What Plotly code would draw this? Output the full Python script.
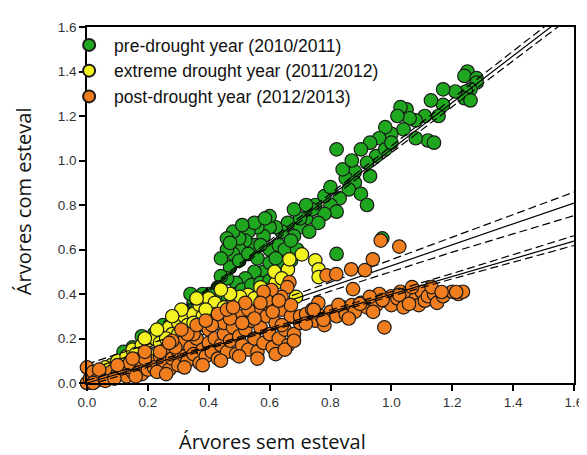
import plotly.graph_objects as go

# ---------------- data ----------------
green_x = [1.25, 1.24, 1.28, 1.28, 1.26, 1.245, 1.24, 1.26, 1.21, 1.17, 1.17, 1.13, 1.155, 1.11, 1.08, 1.05, 1.06, 1.03,
           1.12, 1.14, 1.08, 1.00, 0.98, 1.02, 0.96, 0.93, 0.95, 0.92, 0.90, 0.88, 0.85, 0.82, 0.88, 0.86, 0.90, 0.93,
           0.97, 0.92, 0.83, 0.80, 0.82, 0.78, 0.75, 0.76, 0.72, 0.70, 0.73, 0.68, 0.66, 0.64, 0.62, 0.60, 0.58, 0.56,
           0.53, 0.55, 0.52, 0.50, 0.48, 0.46, 0.47, 0.50, 0.53, 0.56, 0.60, 0.63, 0.65, 0.58, 0.60, 0.55, 0.52, 0.49,
           0.46, 0.44, 0.43, 0.45, 0.48, 0.51, 0.54, 0.57, 0.60, 0.62, 0.65, 0.67, 0.69, 0.42, 0.40, 0.38, 0.35, 0.34,
           0.36, 0.32, 0.30, 0.28, 0.25, 0.22, 0.18, 0.15, 0.12, 0.82, 0.64, 0.50, 0.48, 0.55, 0.57, 0.62, 0.67, 0.70,
           0.74, 0.78, 0.80, 0.84, 0.87, 0.98, 1.00, 1.04, 0.68, 0.72, 0.60, 0.46, 0.44, 0.40, 0.38, 0.585, 0.51, 0.47]
green_y = [1.40, 1.38, 1.37, 1.35, 1.32, 1.31, 1.28, 1.27, 1.31, 1.32, 1.25, 1.27, 1.20, 1.20, 1.18, 1.23, 1.19, 1.24,
           1.09, 1.08, 1.10, 1.12, 1.15, 1.20, 1.10, 1.08, 1.02, 0.99, 1.05, 0.95, 0.92, 1.05, 0.90, 0.87, 0.85, 0.93,
           0.65, 0.80, 0.83, 0.80, 0.77, 0.76, 0.80, 0.72, 0.74, 0.70, 0.68, 0.66, 0.72, 0.68, 0.70, 0.70, 0.66, 0.70,
           0.68, 0.62, 0.64, 0.60, 0.58, 0.60, 0.52, 0.55, 0.58, 0.56, 0.60, 0.62, 0.60, 0.50, 0.54, 0.50, 0.47, 0.45,
           0.47, 0.48, 0.43, 0.40, 0.40, 0.42, 0.44, 0.45, 0.46, 0.50, 0.52, 0.55, 0.60, 0.38, 0.40, 0.40, 0.36, 0.40,
           0.33, 0.32, 0.30, 0.28, 0.26, 0.22, 0.21, 0.16, 0.14, 0.58, 0.54, 0.65, 0.68, 0.72, 0.62, 0.56, 0.64, 0.74,
           0.78, 0.84, 0.88, 0.96, 1.00, 1.05, 1.08, 1.14, 0.78, 0.80, 0.75, 0.65, 0.56, 0.35, 0.34, 0.74, 0.71, 0.63]

yellow_x = [0.05, 0.08, 0.10, 0.13, 0.15, 0.18, 0.20, 0.22, 0.25, 0.27, 0.30, 0.32, 0.35, 0.37, 0.40, 0.42, 0.45, 0.48,
            0.50, 0.53, 0.56, 0.58, 0.60, 0.62, 0.616, 0.66, 0.665, 0.706, 0.75, 0.761, 0.761, 0.687, 0.584, 0.529, 0.503,
            0.38, 0.33, 0.28, 0.24, 0.20, 0.17, 0.14, 0.13, 0.03, 0.06, 0.35, 0.42, 0.45, 0.52, 0.30, 0.26, 0.55, 0.47,
            0.44, 0.39, 0.36, 0.31, 0.28, 0.23, 0.19, 0.16, 0.09, 0.64, 0.57]
yellow_y = [0.05, 0.08, 0.10, 0.12, 0.15, 0.17, 0.19, 0.20, 0.22, 0.25, 0.27, 0.30, 0.31, 0.35, 0.38, 0.36, 0.34, 0.35,
            0.37, 0.36, 0.33, 0.40, 0.42, 0.45, 0.50, 0.51, 0.556, 0.578, 0.551, 0.511, 0.476, 0.387, 0.373, 0.396, 0.387,
            0.30, 0.26, 0.22, 0.18, 0.13, 0.10, 0.07, -0.005, 0.04, 0.07, 0.27, 0.31, 0.28, 0.30, 0.22, 0.20, 0.38, 0.40,
            0.42, 0.33, 0.38, 0.33, 0.30, 0.24, 0.20, 0.13, 0.06, 0.47, 0.43]

orange_x = [0.00, 0.01, 0.00, 0.02, 0.03, 0.05, 0.07, 0.08, 0.10, 0.12, 0.13, 0.15, 0.17, 0.18, 0.20, 0.21, 0.22, 0.24,
            0.25, 0.26, 0.27, 0.28, 0.30, 0.30, 0.31, 0.32, 0.33, 0.34, 0.35, 0.36, 0.37, 0.38, 0.39, 0.40, 0.40, 0.41,
            0.42, 0.43, 0.44, 0.45, 0.45, 0.46, 0.47, 0.48, 0.49, 0.50, 0.50, 0.51, 0.52, 0.53, 0.54, 0.55, 0.56, 0.56,
            0.57, 0.58, 0.59, 0.60, 0.60, 0.61, 0.62, 0.63, 0.64, 0.65, 0.66, 0.67, 0.68, 0.70, 0.665, 0.658, 0.639, 0.606,
            0.58, 0.70, 0.72, 0.74, 0.75, 0.77, 0.78, 0.80, 0.82, 0.84, 0.85, 0.87, 0.88, 0.90, 0.92, 0.93, 0.95, 0.96,
            0.98, 1.00, 1.00, 1.02, 1.03, 1.05, 1.06, 1.08, 1.09, 1.10, 1.11, 1.12, 1.14, 1.15, 1.17, 1.20, 1.22, 1.235,
            1.04, 0.94, 0.86, 0.76, 0.787, 0.819, 0.868, 0.913, 0.939, 0.965, 1.026, 0.977, 0.874, 0.929, 0.971, 1.026,
            1.058, 0.826, 0.897, 1.068, 1.132, 1.165, 1.213, 0.745, 0.719, 0.777,
            0.02, 0.04, 0.06, 0.09, 0.11, 0.14, 0.16, 0.19, 0.23, 0.26, 0.29, 0.32, 0.35, 0.38, 0.41, 0.44, 0.47, 0.50,
            0.53, 0.56, 0.59, 0.62, 0.65, 0.68, 0.24, 0.28, 0.33, 0.36, 0.43, 0.46, 0.52, 0.55, 0.58, 0.61, 0.64, 0.67,
            0.10, 0.15, 0.19, 0.27, 0.31, 0.39, 0.48, 0.51, 0.57, 0.63]
orange_y = [0.00, 0.02, 0.07, 0.05, 0.01, 0.03, 0.02, 0.05, 0.04, 0.06, 0.03, 0.05, 0.08, 0.04, 0.06, 0.10, 0.07, 0.12,
            0.09, 0.15, 0.06, 0.11, 0.14, 0.08, 0.18, 0.12, 0.10, 0.16, 0.13, 0.20, 0.09, 0.15, 0.12, 0.18, 0.24, 0.14,
            0.20, 0.11, 0.17, 0.22, 0.27, 0.14, 0.19, 0.25, 0.13, 0.21, 0.30, 0.17, 0.24, 0.15, 0.28, 0.20, 0.32, 0.14,
            0.25, 0.18, 0.30, 0.22, 0.35, 0.16, 0.27, 0.20, 0.33, 0.24, 0.17, 0.30, 0.22, 0.27, 0.453, 0.431, 0.387, 0.418,
            0.38, 0.30, 0.31, 0.33, 0.28, 0.30, 0.26, 0.32, 0.30, 0.34, 0.31, 0.35, 0.32, 0.36, 0.34, 0.38, 0.35, 0.40,
            0.37, 0.39, 0.35, 0.38, 0.41, 0.37, 0.40, 0.38, 0.35, 0.41, 0.37, 0.39, 0.40, 0.36, 0.39, 0.41, 0.40, 0.41,
            0.34, 0.32, 0.29, 0.36, 0.484, 0.489, 0.511, 0.507, 0.556, 0.64, 0.613, 0.25, 0.422, 0.387, 0.373, 0.396,
            0.356, 0.351, 0.356, 0.431, 0.431, 0.409, 0.409, 0.329, 0.267, 0.284,
            0.00, 0.06, 0.01, 0.02, 0.07, 0.09, 0.03, 0.11, 0.05, 0.04, 0.16, 0.07, 0.22, 0.08, 0.26, 0.10, 0.29, 0.12,
            0.33, 0.11, 0.37, 0.13, 0.15, 0.19, 0.14, 0.19, 0.22, 0.26, 0.31, 0.33, 0.36, 0.29, 0.41, 0.32, 0.26, 0.35,
            0.08, 0.11, 0.14, 0.18, 0.24, 0.28, 0.34, 0.27, 0.36, 0.37]

# regression lines with confidence bands (values read at these x positions)
band_x = [0.0, 0.4, 0.8, 1.2, 1.6]
green_fit = [0.0, 0.42, 0.84, 1.26, 1.68]
green_hi = [0.012, 0.428, 0.852, 1.278, 1.705]
green_lo = [-0.012, 0.412, 0.828, 1.242, 1.655]
yellow_fit = [0.057, 0.245, 0.433, 0.621, 0.809]
yellow_hi = [0.085, 0.263, 0.453, 0.655, 0.858]
yellow_lo = [0.030, 0.227, 0.413, 0.588, 0.752]
orange_fit = [0.0, 0.16, 0.32, 0.48, 0.638]
orange_hi = [0.012, 0.166, 0.328, 0.492, 0.662]
orange_lo = [-0.012, 0.154, 0.312, 0.468, 0.618]

series_names = ["pre-drought year (2010/2011)", "extreme drought year (2011/2012)", "post-drought year (2012/2013)"]
colors = ["#1fa81f", "#f3f322", "#f07e1e"]

fig = go.Figure()

groups = [
    (green_x, green_y, green_fit, green_hi, green_lo),
    (yellow_x, yellow_y, yellow_fit, yellow_hi, yellow_lo),
    (orange_x, orange_y, orange_fit, orange_hi, orange_lo),
]
for i, (gx, gy, fit, hi, lo) in enumerate(groups):
    fig.add_trace(go.Scatter(
        x=gx, y=gy, mode="markers", name=series_names[i], legendgroup=f"g{i}",
        marker=dict(size=13.5, color=colors[i], line=dict(color="#1a1a1a", width=1.2)),
        cliponaxis=False,
    ))
    fig.add_trace(go.Scatter(x=band_x, y=fit, mode="lines", showlegend=False,
                             line=dict(color="black", width=1.2)))
    for b in (hi, lo):
        fig.add_trace(go.Scatter(x=band_x, y=b, mode="lines", showlegend=False,
                                 line=dict(color="black", width=1.2, dash="8px,4px")))

axis_common = dict(
    showgrid=False, zeroline=False, showline=True, linecolor="black", linewidth=1.5,
    mirror=True, ticks="outside", ticklen=6, tickwidth=1.5, tickcolor="black",
    tickfont=dict(family="Liberation Sans, Arial", size=13.5, color="#333"),
    range=[0, 1.6], dtick=0.2, tickformat=".1f",
)

fig.update_layout(
    width=587, height=455,
    margin=dict(l=79, r=12, t=17, b=80),
    paper_bgcolor="white", plot_bgcolor="white",
    xaxis=dict(**axis_common),
    yaxis=dict(**axis_common),
    showlegend=True,
    legend=dict(x=-0.047, y=1.0, xanchor="left", yanchor="top", bgcolor="rgba(0,0,0,0)",
                font=dict(family="Liberation Sans, Arial", size=17.5, color="#111"),
                tracegroupgap=0, itemsizing="constant", itemwidth=40),
    annotations=[
        dict(text="Árvores com esteval", xref="paper", yref="paper", x=-0.13, y=0.51,
             textangle=-90, showarrow=False, xanchor="center", yanchor="middle",
             font=dict(family="Open Sans", size=20, color="#111")),
        dict(text="Árvores sem esteval", xref="paper", yref="paper", x=0.38, y=-0.165,
             showarrow=False, xanchor="center", yanchor="middle",
             font=dict(family="Open Sans", size=20, color="#111")),
    ],
)

fig.write_html("out.html")
